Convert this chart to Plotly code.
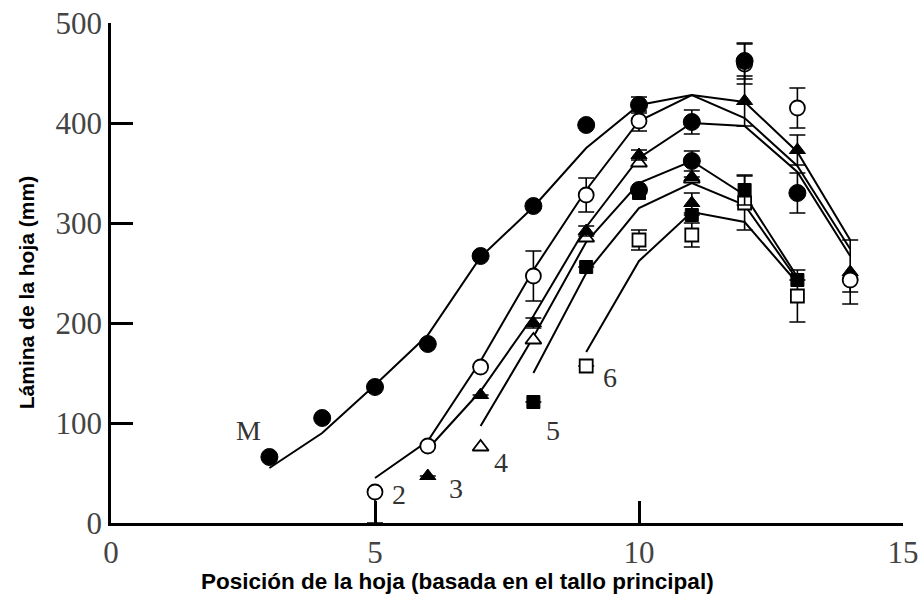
import plotly.graph_objects as go

# ---------------- data ----------------
# fitted curves (leaf position -> blade length, mm)
curve_M_x = [3, 4, 5, 6, 7, 8, 9, 10, 11, 12, 13, 14]
curve_M_y = [55, 90, 138, 188, 266, 316, 375, 418, 428, 421, 371, 283]
curve_2_x = [5, 6, 7, 8, 9, 10, 11, 12, 13, 14]
curve_2_y = [45, 82, 162, 253, 333, 402, 428, 405, 357, 274]
curve_3_x = [6, 7, 8, 9, 10, 11, 12, 13, 14]
curve_3_y = [74, 132, 207, 296, 365, 400, 397, 351, 267]
curve_4_x = [7, 8, 9, 10, 11, 12, 13]
curve_4_y = [97, 186, 281, 340, 362, 328, 246]
curve_5_x = [8, 9, 10, 11, 12, 13]
curve_5_y = [150, 250, 315, 340, 318, 243]
curve_6_x = [9, 10, 11, 12, 13]
curve_6_y = [171, 262, 311, 301, 240]

# observed points (x, value, error)
fc_x = [3, 4, 5, 6, 7, 8, 9, 10, 10, 11, 11, 12, 13]
fc_y = [66, 105, 136, 179, 267, 317, 398, 418, 333, 401, 362, 462, 330]
fc_e = [0, 0, 0, 0, 0, 0, 0, 8, 0, 12, 10, 18, 20]

oc_x = [5, 6, 7, 8, 9, 10, 12, 13, 14]
oc_y = [31, 77, 156, 247, 328, 402, 459, 415, 243]
oc_ep = [0, 0, 0, 25, 17, 10, 20, 20, 0]
oc_em = [31, 0, 0, 25, 17, 10, 20, 20, 12]

ft_x = [6, 7, 8, 9, 10, 11, 11, 12, 13, 14]
ft_y = [47, 128, 200, 292, 368, 346, 320, 422, 373, 251]
ft_e = [0, 0, 5, 5, 5, 0, 10, 25, 15, 32]

ot_x = [7, 8, 9, 10, 11]
ot_y = [76, 183, 285, 360, 344]

fs_x = [8, 9, 10, 11, 12, 13]
fs_y = [121, 256, 330, 308, 333, 243]
fs_e = [0, 0, 0, 0, 15, 0]

os_x = [9, 10, 11, 12, 13]
os_y = [157, 283, 288, 320, 227]
os_e = [0, 10, 12, 27, 26]

labels = ["M", "2", "3", "4", "5", "6"]
label_x = [2.6, 5.45, 6.54, 7.38, 8.38, 9.46]
label_y = [93, 29, 35, 61, 93, 146]

x_ticks = [0, 5, 10, 15]
y_ticks = [0, 100, 200, 300, 400, 500]

x_title = "Posición de la hoja (basada en el tallo principal)"
y_title = "Lámina de la hoja (mm)"

# ---------------- figure ----------------
fig = go.Figure()
line_style = dict(color="black", width=2)
for cx, cy in [(curve_M_x, curve_M_y), (curve_2_x, curve_2_y), (curve_3_x, curve_3_y),
               (curve_4_x, curve_4_y), (curve_5_x, curve_5_y), (curve_6_x, curve_6_y)]:
    fig.add_trace(go.Scatter(x=cx, y=cy, mode="lines", line=line_style,
                             hoverinfo="skip", showlegend=False))

err = dict(color="black", thickness=1.6, width=8)

fig.add_trace(go.Scatter(x=os_x, y=os_y, mode="markers",
                         marker=dict(symbol="square", size=13, color="white",
                                     line=dict(color="black", width=1.8)),
                         error_y=dict(type="data", array=os_e, **err), showlegend=False))
fig.add_trace(go.Scatter(x=fs_x, y=fs_y, mode="markers",
                         marker=dict(symbol="square", size=13, color="black",
                                     line=dict(color="black", width=1)),
                         error_y=dict(type="data", array=fs_e, **err), showlegend=False))
fig.add_trace(go.Scatter(x=ot_x, y=ot_y, mode="markers",
                         marker=dict(symbol="triangle-up", size=14, color="white",
                                     line=dict(color="black", width=1.8)),
                         showlegend=False))
fig.add_trace(go.Scatter(x=ft_x, y=ft_y, mode="markers",
                         marker=dict(symbol="triangle-up", size=14, color="black",
                                     line=dict(color="black", width=1)),
                         error_y=dict(type="data", array=ft_e, **err), showlegend=False))
fig.add_trace(go.Scatter(x=oc_x, y=oc_y, mode="markers",
                         marker=dict(symbol="circle", size=15, color="white",
                                     line=dict(color="black", width=1.8)),
                         error_y=dict(type="data", symmetric=False, array=oc_ep,
                                      arrayminus=oc_em, **err), showlegend=False))
fig.add_trace(go.Scatter(x=fc_x, y=fc_y, mode="markers",
                         marker=dict(symbol="circle", size=17, color="black",
                                     line=dict(color="black", width=1)),
                         error_y=dict(type="data", array=fc_e, **err), showlegend=False))

serif = "Liberation Serif, Times New Roman, serif"
sans = "Liberation Sans, Arial, sans-serif"

for t, lx, ly in zip(labels, label_x, label_y):
    fig.add_annotation(x=lx, y=ly, xref="x", yref="y", text=t, showarrow=False,
                       font=dict(family=serif, size=28, color="#333"))

# axis titles placed as annotations
fig.add_annotation(x=0.438, y=-0.117, xref="paper", yref="paper", text="<b>" + x_title + "</b>",
                   showarrow=False, xanchor="center", yanchor="middle",
                   font=dict(family=sans, size=22.5, color="black"))
fig.add_annotation(x=-0.107, y=0.46, xref="paper", yref="paper", text="<b>" + y_title + "</b>",
                   showarrow=False, textangle=-90, xanchor="center", yanchor="middle",
                   font=dict(family=sans, size=21, color="black"))

fig.update_layout(
    width=921, height=594, autosize=False,
    margin=dict(l=111, r=18, t=23, b=71),
    paper_bgcolor="white", plot_bgcolor="white",
    xaxis=dict(range=[0, 15], tickvals=x_ticks, automargin=False,
               showgrid=False, zeroline=False, showline=True, linecolor="black",
               linewidth=2.5, ticks="inside", ticklen=22, tickwidth=2.5,
               tickcolor="black", tickfont=dict(family=serif, size=31, color="#444")),
    yaxis=dict(range=[0, 500], tickvals=y_ticks, automargin=False, showgrid=False,
               zeroline=False, showline=True, linecolor="black", linewidth=2.5,
               ticks="inside", ticklen=22, tickwidth=2.5, tickcolor="black",
               tickfont=dict(family=serif, size=31, color="#444")),
)

# remove the page's default body margin so the figure fills the window exactly
fig.write_html("out.html", config={"displayModeBar": False},
               post_script="document.body.style.margin='0';")
